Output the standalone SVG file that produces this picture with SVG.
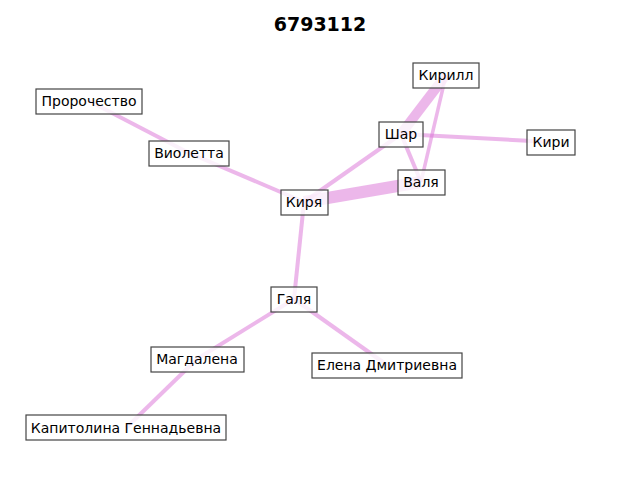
<svg xmlns="http://www.w3.org/2000/svg" width="640" height="480" viewBox="0 0 640 480">
<style>
.e{stroke:#da70d6;stroke-opacity:0.5;stroke-linecap:butt;fill:none}
.n rect{fill:#ffffff;fill-opacity:0.8;stroke:#444444;stroke-width:1.2}
.n text{font-family:"DejaVu Sans",sans-serif;font-size:14px;fill:#000;text-anchor:middle;dominant-baseline:central}
.t{font-family:"DejaVu Sans",sans-serif;font-size:19px;font-weight:bold;text-anchor:middle}
</style>
<rect width="640" height="480" fill="#ffffff"/>
<text class="t" x="320" y="30.5">6793112</text>
<g id="connectors">
<line class="e" x1="89" y1="101" x2="189" y2="153" stroke-width="4"/>
<line class="e" x1="189" y1="153" x2="304" y2="202" stroke-width="4"/>
<line class="e" x1="304" y1="202" x2="401" y2="134" stroke-width="4"/>
<line class="e" x1="304" y1="202" x2="421" y2="182" stroke-width="12"/>
<line class="e" x1="304" y1="202" x2="294" y2="299" stroke-width="4"/>
<line class="e" x1="401" y1="134" x2="446" y2="75" stroke-width="10"/>
<line class="e" x1="401" y1="134" x2="551" y2="142" stroke-width="4"/>
<line class="e" x1="401" y1="134" x2="421" y2="182" stroke-width="4"/>
<line class="e" x1="446" y1="75" x2="421" y2="182" stroke-width="3.5"/>
<line class="e" x1="294" y1="299" x2="197" y2="359" stroke-width="4"/>
<line class="e" x1="294" y1="299" x2="387" y2="365" stroke-width="4"/>
<line class="e" x1="197" y1="359" x2="126" y2="428" stroke-width="4"/>
</g>
<g id="n-kirill" class="n"><rect x="413" y="63" width="66" height="25"/><text x="446" y="75">Кирилл</text></g>
<g id="n-shar" class="n"><rect x="379" y="122" width="44" height="25"/><text x="401" y="134">Шар</text></g>
<g id="n-kiri" class="n"><rect x="527" y="130" width="48" height="25"/><text x="551" y="142">Кири</text></g>
<g id="n-valya" class="n"><rect x="398" y="170" width="47" height="25"/><text x="421" y="182">Валя</text></g>
<g id="n-kirya" class="n"><rect x="281" y="190" width="47" height="25"/><text x="304" y="202">Киря</text></g>
<g id="n-prorochestvo" class="n"><rect x="36" y="89" width="106" height="25"/><text x="89" y="101">Пророчество</text></g>
<g id="n-violetta" class="n"><rect x="149" y="141" width="80" height="25"/><text x="189" y="153">Виолетта</text></g>
<g id="n-galya" class="n"><rect x="271" y="287" width="46" height="25"/><text x="294" y="299">Галя</text></g>
<g id="n-magdalena" class="n"><rect x="151" y="347" width="93" height="25"/><text x="197" y="359">Магдалена</text></g>
<g id="n-elena" class="n"><rect x="312" y="353" width="150" height="25"/><text x="387" y="365">Елена Дмитриевна</text></g>
<g id="n-kapitolina" class="n"><rect x="26" y="415" width="200" height="25"/><text x="126" y="428">Капитолина Геннадьевна</text></g>
</svg>
